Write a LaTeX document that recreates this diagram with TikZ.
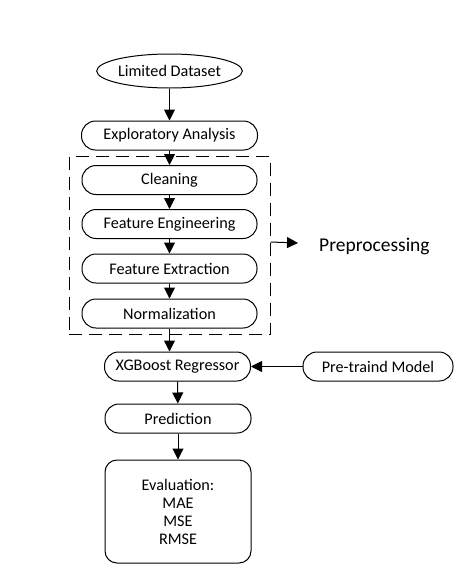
\documentclass[tikz,border=0pt]{standalone}
\usepackage{fontspec}
\setmainfont{Carlito}
\usetikzlibrary{shapes.geometric,arrows.meta}
\begin{document}
\begin{tikzpicture}[x=1pt,y=-1pt,
  every node/.style={font=\fontsize{16.2}{18}\selectfont},
  pill/.style={draw,line width=1pt,rounded corners=14pt,inner sep=0pt,minimum height=29pt},
  arr/.style={draw,line width=1pt,-{Triangle[length=11pt,width=11pt]}},
  dbox/.style={draw,line width=1pt,dash pattern=on 13pt off 7pt,inner sep=0pt}]
\useasboundingbox (0,0) rectangle (462,584);
\node[draw,ellipse,line width=1pt,minimum width=145pt,minimum height=34pt,inner sep=0pt] (ld) at (169.5,71) {Limited Dataset};
\node[pill,minimum width=176pt] (ea) at (169.5,135.5) {Exploratory Analysis};
\node[dbox,minimum width=201pt,minimum height=178pt] (pp) at (169.5,245.5) {};
\node[pill,minimum width=175pt] (cl) at (169.5,180) {Cleaning};
\node[pill,minimum width=175pt] (fe) at (169.5,224) {Feature Engineering};
\node[pill,minimum width=175pt] (fx) at (169.5,268.5) {Feature Extraction};
\node[pill,minimum width=175pt] (nm) at (169.5,313.5) {Normalization};
\node[font=\fontsize{19.5}{22}\selectfont,anchor=west,inner sep=0pt] (ppl) at (319,246) {Preprocessing};
\node[pill,minimum width=146pt] (xg) at (177.5,366.5) {XGBoost Regressor};
\node[pill,minimum width=150pt] (pm) at (378,366.5) {Pre-traind Model};
\node[pill,minimum width=146pt] (pr) at (178,418.5) {Prediction};
\node[draw,line width=1pt,rounded corners=12pt,minimum width=146pt,minimum height=103pt,align=center,inner sep=0pt] (ev) at (178,511.5) {Evaluation:\\MAE\\MSE\\RMSE};
\draw[arr] (ld) -- (ea);
\draw[arr] (ea) -- (cl);
\draw[arr] (cl) -- (fe);
\draw[arr] (fe) -- (fx);
\draw[arr] (fx) -- (nm);
\draw[arr] (nm.south) -- (nm.south |- xg.north);
\draw[arr] (pm) -- (xg);
\draw[arr] (xg) -- (pr);
\draw[arr] (pr) -- (ev);
\draw[arr] ([yshift=3.5pt]pp.east) -- ([xshift=-21pt,yshift=3pt]ppl.west);
\end{tikzpicture}
\end{document}
